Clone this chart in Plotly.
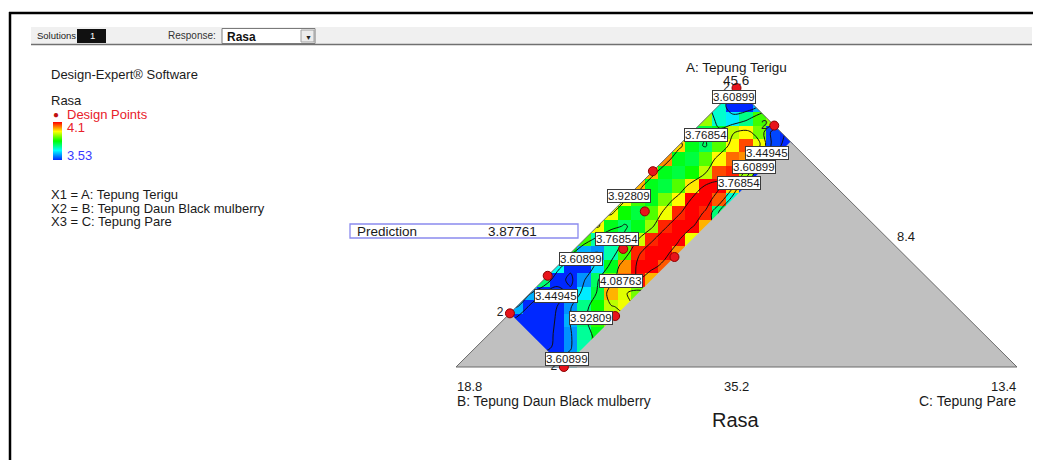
import plotly.graph_objects as go

# ---------------- data ----------------
RESPONSE = "Rasa"
COMP_A = "A: Tepung Terigu"
COMP_B = "B: Tepung Daun Black mulberry"
COMP_C = "C: Tepung Pare"

A_LOW, A_HIGH = 35.2, 45.6
B_LOW, B_HIGH = 8.4, 18.8
C_LOW, C_HIGH = 3.0, 13.4
B_LIMIT = 16.8      # design upper bound of B
C_LIMIT = 5.0       # design upper bound of C

design_A = [45.6, 44.2, 42.0, 42.5, 41.0, 39.6, 39.3, 38.6, 37.2, 37.1, 35.2]
design_B = [8.4, 8.4, 10.0, 11.5, 12.4, 13.5, 12.7, 15.4, 16.8, 14.9, 16.8]
design_C = [3.0, 4.4, 5.0, 3.0, 3.6, 3.9, 5.0, 3.0, 3.0, 5.0, 5.0]
design_reps = [2, 2, 1, 1, 1, 1, 1, 1, 2, 1, 2]

# predicted Rasa, rows from A-low (bottom) to A-high (top),
# columns from the C-low edge to the C-limit edge of the design region
rasa_grid = [
    [None, None, None, None, None, None, None, 3.62, 3.64],
    [None, None, None, None, None, 3.42, 3.47, 3.60, 3.72],
    [None, None, None, 3.40, 3.40, 3.47, 3.60, 3.73, 3.80],
    [None, 3.40, 3.38, 3.40, 3.46, 3.62, 3.75, 3.84, 3.90],
    [3.62, 3.42, 3.40, 3.45, 3.60, 3.74, 3.82, 3.92, 3.95],
    [3.62, 3.45, 3.40, 3.48, 3.66, 3.78, 4.00, 3.94, 3.88],
    [3.75, 3.50, 3.42, 3.60, 3.76, 3.88, 4.04, 4.09, 4.00],
    [3.68, 3.48, 3.50, 3.65, 3.80, 4.02, 4.10, 4.12, 4.05],
    [3.80, 3.62, 3.60, 3.72, 3.85, 4.08, 4.12, 4.12, 4.02],
    [3.85, 3.72, 3.68, 3.78, 3.93, 4.08, 4.12, 4.10, 3.95],
    [3.95, 3.80, 3.76, 3.80, 3.90, 4.08, 4.12, 4.10, 4.00],
    [3.95, 3.82, 3.78, 3.86, 3.95, 4.08, 4.12, 4.08, 3.75],
    [3.95, 3.85, 3.80, 3.88, 3.96, 4.10, 4.12, 4.05, 3.70],
    [4.00, 3.80, 3.78, 3.86, 3.97, 4.10, 4.10, 3.98, 3.55],
    [4.00, 3.80, 3.78, 3.82, 3.92, 4.06, 4.08, 3.90, 3.45],
    [4.02, 3.80, 3.78, 3.86, 3.96, 4.04, 4.02, 3.62, 3.40],
    [3.98, 3.80, 3.76, 3.86, 3.96, 4.06, 3.95, 3.55, 3.38],
    [3.76, 3.78, 3.80, 3.92, 3.96, 3.88, 3.55, 3.45, None],
    [3.90, 3.70, 3.66, 3.74, 3.85, 3.90, None, None, None],
    [3.70, 3.52, 3.50, 3.62, None, None, None, None, None],
    [3.64, 3.62, None, None, None, None, None, None, None],
]

contour_start, contour_end, contour_step = 3.44945, 4.08763, 0.15954
legend_high, legend_low = 4.1, 3.53
prediction_value = 3.87761

contour_label_text = ["3.60899", "3.76854", "3.44945", "3.60899", "3.76854", "3.92809",
                      "3.76854", "3.60899", "4.08763", "3.44945", "3.92809", "3.60899"]

# ---------------- geometry ----------------
PAGE_W, PAGE_H = 1041, 468
BODY = 8                                  # default page body margin
FW, FH = PAGE_W - 2 * BODY, PAGE_H - 2 * BODY
OX, OY, SX, SY = 456.0, 367.0, 561.0, 558.0   # page-pixel frame of the triangle


def dx(px):
    return (px - OX) / SX


def dy(py):
    return (OY - py) / SY


def pxp(px):
    return (px - BODY) / FW


def pyp(py):
    return 1 - (py - BODY) / FH


RANGE = A_HIGH - A_LOW


def to_xy(A, B, C):
    a = (A - A_LOW) / RANGE
    c = (C - C_LOW) / RANGE
    return c + a / 2.0, a / 2.0


c_lim = (C_LIMIT - C_LOW) / RANGE
b_lim = (B_LIMIT - B_LOW) / RANGE
ncol = len(rasa_grid[0])
nrow = len(rasa_grid)
h = c_lim / (ncol - 1)
nk = nrow + ncol - 1
Z = [[None] * nk for _ in range(nrow)]
for r, row in enumerate(rasa_grid):
    for j, v in enumerate(row):
        Z[r][r + j] = v
gx = [(k + 0.5) * h for k in range(nk)]
gy = [(r + 0.5) * h for r in range(nrow)]

colorscale = [[0.0, "#0028ff"], [0.25, "#00ffff"], [0.5, "#00ff00"],
              [0.75, "#ffff00"], [1.0, "#ff0000"]]

fig = go.Figure()

fig.add_trace(go.Heatmap(
    x=gx, y=gy, z=Z, zmin=legend_low, zmax=legend_high, colorscale=colorscale,
    zsmooth=False, hoverinfo="skip",
    colorbar=dict(x=pxp(53), xanchor="left", y=pyp(122), yanchor="top",
                  len=38, lenmode="pixels", thickness=9, thicknessmode="pixels",
                  showticklabels=False, ticks="", outlinewidth=0, xpad=0, ypad=0),
))

fig.add_trace(go.Contour(
    x=gx, y=gy, z=Z, showscale=False, hoverinfo="skip",
    contours=dict(start=contour_start, end=contour_end, size=contour_step, coloring="none"),
    line=dict(color="#111111", width=1),
))

# masks (outside triangle = white, triangle outside the design region = grey)
GREY = "#c0c0c0"
lc = (1 - b_lim) / 2.0       # left corner of design region
rc_x = c_lim + (1 - c_lim) / 2.0
rc_y = (1 - c_lim) / 2.0
masks = [
    ([0, 0.5, 0.5, -0.02, -0.02, 0], [0, 0.5, 0.54, 0.54, 0, 0], "white"),
    ([0.5, 0.78, 0.78, 0.5, 0.5], [0.5, 0.22, 0.54, 0.54, 0.5], "white"),
    ([c_lim, rc_x, 1.0, c_lim], [0, rc_y, 0, 0], GREY),
    ([0, lc, 1 - b_lim, 0], [0, lc, 0, 0], GREY),
]
for mx, my, col in masks:
    fig.add_trace(go.Scatter(x=mx, y=my, mode="lines", fill="toself", fillcolor=col,
                             line=dict(width=0, color=col), hoverinfo="skip"))

# triangle outline
fig.add_trace(go.Scatter(x=[0, 1, 0.5, 0], y=[0, 0, 0.5, 0], mode="lines",
                         line=dict(color="#6a6a6a", width=1), hoverinfo="skip"))

# design points
pts = [to_xy(a, b, c) for a, b, c in zip(design_A, design_B, design_C)]
fig.add_trace(go.Scatter(
    x=[p[0] for p in pts], y=[p[1] for p in pts], mode="markers+text",
    text=["%d" % n if n > 1 else "" for n in design_reps],
    textposition="middle left", textfont=dict(size=12, color="#222222"),
    marker=dict(size=9, color="#e8141b", line=dict(color="#8b0000", width=1)),
    hoverinfo="skip"))

FONT = "Liberation Sans, Arial, sans-serif"
ann = []


def txt(t, px, py, size=13, color="#1a1a1a", xanchor="left"):
    ann.append(dict(text=t, x=pxp(px), y=pyp(py), xref="paper", yref="paper",
                    showarrow=False, xanchor=xanchor, yanchor="middle",
                    font=dict(size=size, color=color, family=FONT)))


# left panel
txt("Design-Expert® Software", 49, 75)
txt(RESPONSE, 49, 101)
txt("Design Points", 65, 115, color="#e8202a")
txt("%g" % legend_high, 65, 128, color="#e8202a")
txt("%g" % legend_low, 65, 155, color="#3a3aff")
txt("X1 = " + COMP_A, 49, 194)
txt("X2 = " + COMP_B, 49, 208)
txt("X3 = " + COMP_C, 49, 222)

# axis labels
txt(COMP_A, 736, 67, size=13.5, xanchor="center")
txt("%g" % A_HIGH, 736, 80, size=13.5, xanchor="center")
txt("%g" % B_LOW, 895, 237, size=13)
txt("%g" % B_HIGH, 455, 386, size=13)
txt(COMP_B, 455, 401, size=13.8)
txt("%g" % A_LOW, 736, 386, size=13, xanchor="center")
txt("%g" % C_HIGH, 1018, 386, size=13, xanchor="right")
txt(COMP_C, 1018, 401, size=14, xanchor="right")
txt(RESPONSE, 736, 420, size=20, xanchor="center")

# prediction box
txt("Prediction", 355, 231, size=13.5)
txt("%.5f" % prediction_value, 486, 231, size=13.5)

# toolbar
txt("Solutions", 35, 36, size=9.5, color="#222222")
txt("1", 92, 36, size=9.5, color="white", xanchor="center")
txt("Response:", 166, 36, size=10, color="#333333")
txt("<b>" + RESPONSE + "</b>", 225, 37, size=12, color="#111111")
txt("▼", 308, 37, size=7, color="#222222", xanchor="center")

# contour labels
label_pos = [(734, 97), (706, 135), (767, 153), (754, 167), (739, 183), (629, 196),
             (617, 239), (581, 259), (621, 281), (556, 296), (591, 318), (567, 359)]
for t, (px, py) in zip(contour_label_text, label_pos):
    ann.append(dict(text=t, x=pxp(px), y=pyp(py), xref="paper", yref="paper",
                    showarrow=False, xanchor="center", yanchor="middle",
                    bgcolor="white", bordercolor="#3a3a3a", borderwidth=1, borderpad=0,
                    font=dict(size=11.5, color="#1a1a1a", family=FONT)))

# legend marker dot
ann.append(dict(text="●", x=pxp(56), y=pyp(115), xref="paper", yref="paper",
                showarrow=False, xanchor="center", yanchor="middle",
                font=dict(size=10, color="#c01010", family=FONT)))


def rect(x0, y0, x1, y1, fill=None, line=None, lw=1):
    return dict(type="rect", xref="paper", yref="paper",
                x0=pxp(x0), x1=pxp(x1), y0=pyp(y0), y1=pyp(y1),
                fillcolor=fill if fill else "rgba(0,0,0,0)",
                line=dict(color=line if line else "rgba(0,0,0,0)", width=lw if line else 0),
                layer="above")


def hline(x0, x1, y, color, lw):
    return dict(type="line", xref="paper", yref="paper", x0=pxp(x0), x1=pxp(x1),
                y0=pyp(y), y1=pyp(y), line=dict(color=color, width=lw))


def vline(x, y0, y1, color, lw):
    return dict(type="line", xref="paper", yref="paper", x0=pxp(x), x1=pxp(x),
                y0=pyp(y0), y1=pyp(y1), line=dict(color=color, width=lw))


shapes = [
    hline(9, 1041, 13, "#000000", 2.5),
    vline(10, 12, 468, "#000000", 2.5),
    rect(31, 27, 1032, 44, fill="#f0f0f0"),
    hline(31, 1032, 44.5, "#707070", 1.5),
    rect(77, 29, 106, 43, fill="#111111"),
    rect(222, 28.5, 315, 43.5, fill="white", line="#7a7a7a", lw=1),
    rect(301, 30, 314, 42, fill="#ececec", line="#a0a0a0", lw=1),
    rect(350, 224, 578, 238, line="#8a8aee", lw=1.3),
]

fig.update_layout(
    width=FW, height=FH, margin=dict(l=0, r=0, t=0, b=0), autosize=False,
    paper_bgcolor="white", plot_bgcolor="white", showlegend=False,
    xaxis=dict(visible=False, range=[dx(BODY), dx(BODY + FW)], fixedrange=True),
    yaxis=dict(visible=False, range=[dy(BODY + FH), dy(BODY)], fixedrange=True),
    annotations=ann, shapes=shapes,
    font=dict(family=FONT),
)

fig.write_html("out.html", config={"displayModeBar": False})
